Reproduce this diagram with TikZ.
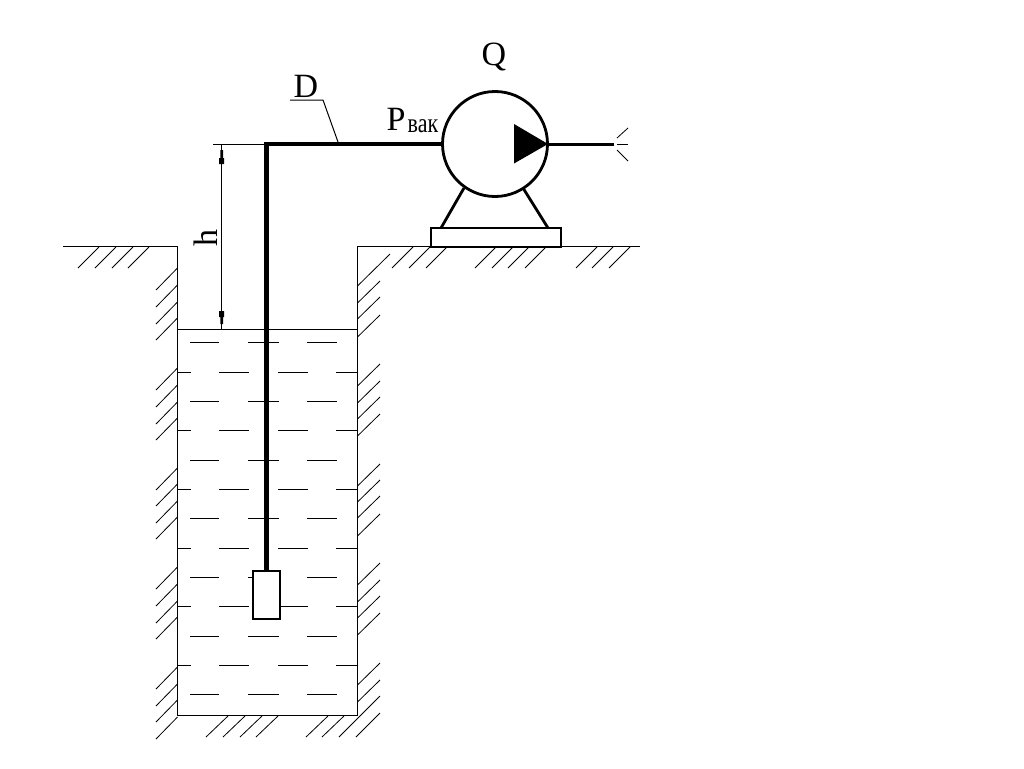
\documentclass[tikz,border=0pt]{standalone}
\usepackage{fontspec}
\setmainfont{Liberation Serif}
\tikzset{
  thinline/.style={line width=1pt,black},
  hatchline/.style={line width=0.8pt,black},
  dashline/.style={line width=1pt,black},
  pipeline/.style={line width=4.7pt,black,line join=miter},
  heavy/.style={line width=2.8pt,black},
  partbox/.style={draw=black,line width=2.6pt,fill=white,rectangle,inner sep=0pt,outer sep=0pt},
  bigtext/.style={font=\fontsize{34}{34}\selectfont,inner sep=0pt,text=black},
  subtext/.style={font=\fontsize{22}{22}\selectfont,inner sep=0pt,text=black}
}
\begin{document}
\begin{tikzpicture}[x=1pt,y=-1pt]
\useasboundingbox[fill=white] (0,0) rectangle (1024,768);

% ground and pit outline
\draw[thinline] (63,246.5) -- (177.5,246.5) -- (177.5,715.7) -- (357.5,715.7) -- (357.5,246.5) -- (640,246.5);
% water surface
\draw[thinline] (177.5,329) -- (357.5,329);

% hatching: left ground
\foreach \x in {99,116,133,149} \draw[hatchline] (\x,247) -- (\x-21,268);
% left wall
\foreach \y in {268,285,302,318,368,385,402,418,468,484,501,517,567,584,601,617,667,684,700,717}
  \draw[hatchline] (177.5,\y) -- (156,\y+22);
% right wall
\draw[hatchline] (357.5,286) -- (390,254);
\foreach \y in {303,319,337,386,403,419,436,486,502,518,536,585,602,618,635,685,702}
  \draw[hatchline] (357.5,\y) -- (380,\y-22);
\draw[hatchline] (339,737) -- (380,696);
\draw[hatchline] (356,737) -- (380,713);
% bottom
\foreach \x in {228,245,262,278,328,344} \draw[hatchline] (\x,716) -- (\x-22,737);
% right ground
\foreach \x in {413,430,447,496,513,529,546,597,613,630} \draw[hatchline] (\x,247) -- (\x-21,268);

% water dashes
\foreach \y in {342,401,460,518,577,636,694} {
  \draw[dashline] (190,\y) -- (219,\y);
  \draw[dashline] (248,\y) -- (279,\y);
  \draw[dashline] (307,\y) -- (337,\y);
}
\foreach \y in {372,430,489,548,606,665} {
  \draw[dashline] (177.5,\y) -- (191,\y);
  \draw[dashline] (219,\y) -- (249,\y);
  \draw[dashline] (278,\y) -- (308,\y);
  \draw[dashline] (336,\y) -- (357.5,\y);
}

% parts
\node[partbox,minimum width=27pt,minimum height=48pt] (strainer) at (266.5,595) {};
\node[partbox,minimum width=130pt,minimum height=19pt] (base) at (496,237.5) {};
\node[draw=black,line width=2.8pt,circle,fill=white,inner sep=0pt,outer sep=0pt,minimum size=105pt] (pump) at (495,144) {};

\coordinate (corner) at (266.5,144);
\coordinate (outlet) at (614,144);
\coordinate (legL) at (464,188);
\coordinate (legLb) at (441,228);
\coordinate (legR) at (523,188);
\coordinate (legRb) at (548,228);

% supports
\draw[heavy] (legL) -- (legLb);
\draw[heavy] (legR) -- (legRb);

% pipes
\draw[pipeline] (pump.west) -- (corner) -- (strainer.north);
\draw[line width=3pt,black] (pump.east) -- (outlet);

% direction triangle
\fill[black] (514,124) -- (548,144) -- (514,163.5) -- cycle;

% spray
\draw[hatchline] (617,138) -- (628,128);
\draw[hatchline] (617,144) -- (628,144);
\draw[hatchline] (617,150) -- (628,161);

% dimension h
\coordinate (dimTop) at (221.7,144);
\coordinate (dimBot) at (221.7,329);
\draw[thinline] (213,144) -- (corner);
\draw[thinline] (dimTop) -- (dimBot);
\fill[black] (220.3,150) -- (223.1,150) -- (223.1,158) -- (224.2,158) -- (224.2,164) -- (219.2,164) -- (219.2,158) -- (220.3,158) -- cycle;
\fill[black] (220.3,324) -- (223.1,324) -- (223.1,317) -- (224.2,317) -- (224.2,311) -- (219.2,311) -- (219.2,317) -- (220.3,317) -- cycle;
\node[bigtext,rotate=90] (hlabel) at (205.5,238) {h};

% leader D
\coordinate (leadA) at (290,100);
\coordinate (leadB) at (323,100);
\coordinate (leadC) at (338,142);
\draw[thinline] (leadA) -- (leadB) -- (leadC);
\node[bigtext] (dlabel) at (306,86.5) {D};

% labels
\node[bigtext] (qlabel) at (494,57) {Q};
\node[bigtext,anchor=base west] (plabel) at (386.5,130) {P};
\node[subtext,anchor=base west] (vaklabel) at (407.5,132) {\scalebox{1}[1.25]{вак}};
\end{tikzpicture}
\end{document}
